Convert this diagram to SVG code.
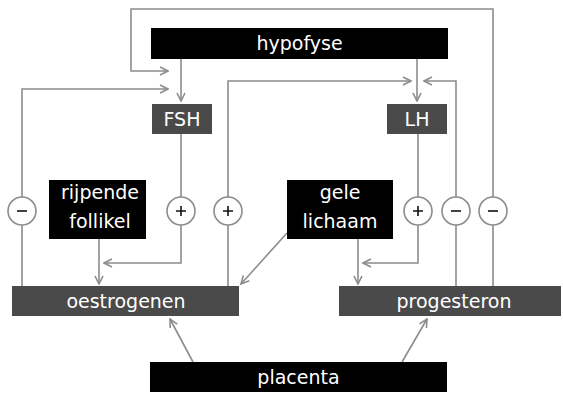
<svg xmlns="http://www.w3.org/2000/svg" width="563" height="394" viewBox="0 0 563 394">
<defs>
<style>
.blk{fill:#000}
.gry{fill:#4a4a4a}
.t{font-family:"DejaVu Sans","Liberation Sans",sans-serif;font-size:19px;fill:#fff;text-anchor:middle}
.c{fill:none;stroke:#8c8c8c;stroke-width:1.6}
.circ{fill:#fff;stroke:#8c8c8c;stroke-width:1.6}
.sign{stroke:#111;stroke-width:1.6;fill:none}
</style>
<marker id="ah" viewBox="0 0 10 10" refX="9" refY="5" markerWidth="10" markerHeight="10" markerUnits="userSpaceOnUse" orient="auto">
<path d="M1,1 L9,5 L1,9" fill="none" stroke="#8c8c8c" stroke-width="1.6"/>
</marker>
</defs>
<g id="connectors">
<path class="c" d="M493,286 V9 H131 V71 H168" marker-end="url(#ah)"/>
<path class="c" d="M22,286 V89 H168" marker-end="url(#ah)"/>
<path class="c" d="M228,286 V81 H411" marker-end="url(#ah)"/>
<path class="c" d="M456,286 V81 H424" marker-end="url(#ah)"/>
<path class="c" d="M181,59 V101" marker-end="url(#ah)"/>
<path class="c" d="M417,59 V101" marker-end="url(#ah)"/>
<path class="c" d="M181,134 V263 H104" marker-end="url(#ah)"/>
<path class="c" d="M99,239 V284" marker-end="url(#ah)"/>
<path class="c" d="M418,134 V263 H363" marker-end="url(#ah)"/>
<path class="c" d="M358,239 V284" marker-end="url(#ah)"/>
<path class="c" d="M287,233 L241,284" marker-end="url(#ah)"/>
<path class="c" d="M193,362 L170,319" marker-end="url(#ah)"/>
<path class="c" d="M402,362 L427,319" marker-end="url(#ah)"/>
</g>
<g id="signs">
<g id="s1"><circle class="circ" cx="22" cy="211" r="14"/><path class="sign" d="M17,211 H27"/></g>
<g id="s2"><circle class="circ" cx="181" cy="211" r="14"/><path class="sign" d="M176,211 H186 M181,206 V216"/></g>
<g id="s3"><circle class="circ" cx="228" cy="211" r="14"/><path class="sign" d="M223,211 H233 M228,206 V216"/></g>
<g id="s4"><circle class="circ" cx="418" cy="211" r="14"/><path class="sign" d="M413,211 H423 M418,206 V216"/></g>
<g id="s5"><circle class="circ" cx="456" cy="211" r="14"/><path class="sign" d="M451,211 H461"/></g>
<g id="s6"><circle class="circ" cx="493" cy="211" r="14"/><path class="sign" d="M488,211 H498"/></g>
</g>
<g id="hypofyse"><rect class="blk" x="151" y="28" width="297" height="31"/><text class="t" x="299.5" y="50">hypofyse</text></g>
<g id="fsh"><rect class="gry" x="152" y="104" width="60" height="30"/><text class="t" x="182" y="126">FSH</text></g>
<g id="lh"><rect class="gry" x="387" y="104" width="60" height="30"/><text class="t" x="417" y="126">LH</text></g>
<g id="follikel"><rect class="blk" x="49" y="180" width="97" height="59"/><text class="t" x="100" y="199">rijpende</text><text class="t" x="100" y="228">follikel</text></g>
<g id="gele"><rect class="blk" x="287" y="180" width="106" height="59"/><text class="t" x="340" y="199">gele</text><text class="t" x="340" y="228">lichaam</text></g>
<g id="oestrogenen"><rect class="gry" x="12" y="286" width="227" height="30"/><text class="t" x="126" y="308">oestrogenen</text></g>
<g id="progesteron"><rect class="gry" x="339" y="286" width="222" height="30"/><text class="t" x="454" y="308">progesteron</text></g>
<g id="placenta"><rect class="blk" x="150" y="362" width="297" height="30"/><text class="t" x="298.5" y="384">placenta</text></g>
</svg>
